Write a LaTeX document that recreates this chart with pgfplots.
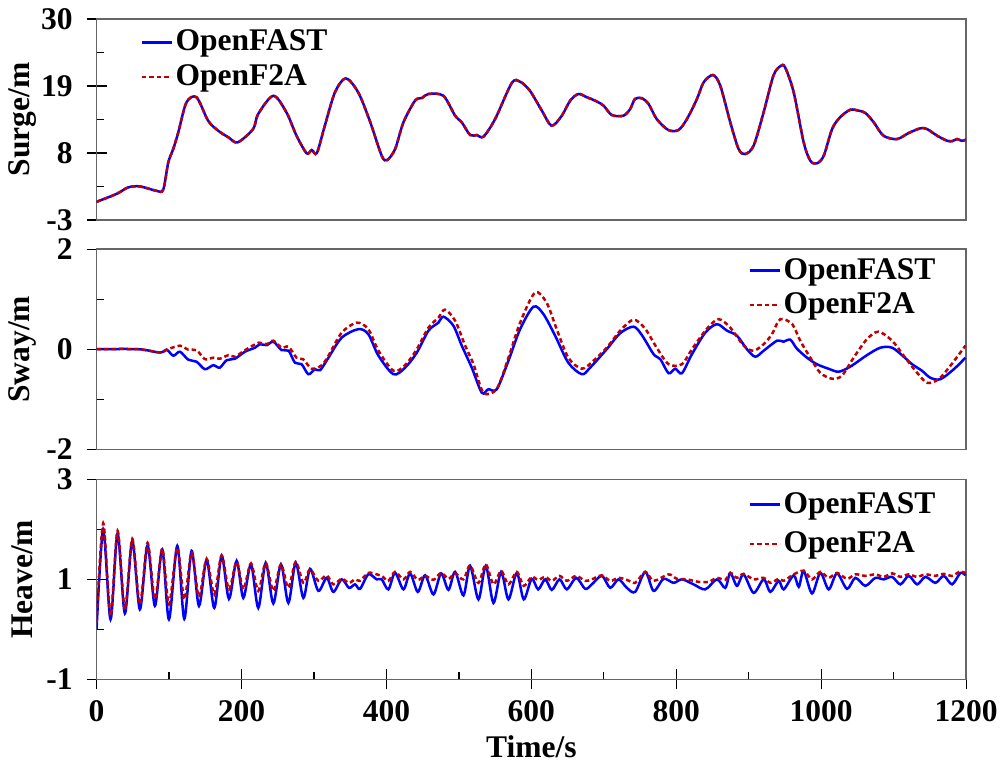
\documentclass[border=0pt]{standalone}
\usepackage{fontspec}
\setmainfont{Liberation Serif}
\usepackage{pgfplots}
\usepackage{pgfplotstable}
\pgfplotsset{compat=1.18}
\usetikzlibrary{calc}

\definecolor{ofblue}{RGB}{0,0,255}
\definecolor{ofred}{RGB}{192,0,0}

\pgfplotstableread{
t v
0 0.0
27.6 1.3
43.7 2.37
59.8 2.53
82.9 1.8
92 2.0
99 6.47
105.8 8.66
112.8 11.4
124 16.3
138 17.15
154 13.3
168 11.66
182 10.58
194.7 9.76
216 11.94
223 14.4
244 17.4
262 14.68
276 10.84
290 7.95
297 8.5
304 8.0
315 12.49
329 17.97
344 20.26
361 17.97
377 13.3
393.5 7.56
401 6.85
412 8.66
423.5 13.04
439.5 16.6
449 17.03
458 17.69
478.6 17.4
494.8 14.13
504 13.04
515.5 10.96
524.7 10.96
534 10.7
550 13.58
573 19.5
584.5 19.7
598 18.23
614.5 14.95
628 12.49
642 14.13
653.6 16.6
665 17.69
676.6 17.15
688 16.6
699.7 15.77
711 14.24
727 14.13
736.4 15.23
743 16.87
752.5 17.0
761.8 16.05
773 13.58
789 11.78
803 11.78
814.7 13.58
828.5 16.87
837.7 19.6
850.6 20.8
860.7 19.05
874.5 13.04
886 8.66
895 7.84
906.7 9.2
920.5 14.68
934 20.69
943.5 22.24
950 22.1
962 17.97
975.8 9.76
985 6.74
994 6.31
1003.5 7.56
1015 11.94
1026 13.86
1040 15.1
1051.7 14.95
1061 14.57
1072.5 13.04
1086 10.84
1104.6 10.3
1120.7 11.29
1136.8 12.06
1146 11.94
1160 10.84
1173.7 10.02
1181 9.96
1187.5 10.3
1194 10.0
1200 10.2
}\surge

\pgfplotstableread{
t v
0 0
57.5 0
87.5 -0.067
96.7 -0.01
106 -0.13
115 -0.05
126.6 -0.21
138 -0.25
149.6 -0.4
161 -0.32
170 -0.37
179.5 -0.22
191 -0.19
204.8 -0.05
218.6 0.03
225.5 0.1
234.7 0.08
244 0.15
255.5 -0.02
265 -0.03
273.8 -0.27
283 -0.3
292.3 -0.5
301.5 -0.4
308.5 -0.42
320 -0.17
338.3 0.23
361.3 0.4
375 0.3
389 -0.13
409.7 -0.5
425.7 -0.37
441.9 -0.07
458 0.37
471.7 0.53
478.7 0.65
492.4 0.47
504 0.07
517.8 -0.37
531.6 -0.87
540.7 -0.8
552.3 -0.8
568.4 -0.23
584.5 0.4
603 0.85
616.7 0.7
632.8 0.27
651 -0.27
669.7 -0.5
681 -0.37
704 0
722.6 0.32
741 0.45
752.6 0.28
768.7 -0.1
778 -0.2
789.4 -0.48
798.6 -0.39
807.8 -0.48
821.6 -0.1
840 0.33
856 0.5
870 0.37
883.7 0.27
897.5 0
909 -0.15
920.6 -0.03
939 0.17
948 0.15
957.3 0.19
966.5 0.01
980.4 -0.17
994 -0.3
1010 -0.39
1024 -0.45
1040 -0.35
1063 -0.12
1081.6 0.03
1097.8 0.03
1113.8 -0.15
1125.3 -0.3
1139 -0.43
1150.5 -0.57
1164.4 -0.6
1183 -0.4
1199 -0.17
}\swayA

\pgfplotstableread{
t v
0 0
57.5 0
87.5 -0.067
96.7 -0.01
115 0.07
126.6 -0.01
138 -0.02
149.6 -0.2
161 -0.17
170 -0.19
182 -0.12
191 -0.15
204.8 -0.02
223.8 0.13
234.7 0.1
244 0.17
255.5 0.03
265 0.05
276 -0.17
285 -0.2
297 -0.39
310.8 -0.32
320 -0.13
338.3 0.33
359 0.53
375 0.4
389 -0.03
409.7 -0.43
425.7 -0.32
441.9 0
458 0.43
471.7 0.63
480.8 0.79
494.8 0.57
508.7 0.07
520.2 -0.3
533.9 -0.87
552.3 -0.79
568.4 -0.17
584.5 0.53
605 1.13
621 0.93
635 0.4
651 -0.17
669.7 -0.39
685.7 -0.23
704 0.03
722.6 0.37
741 0.59
757 0.41
773 0.03
789.4 -0.3
807.8 -0.3
821.6 0
842.3 0.41
858.4 0.6
874.5 0.43
893 0.07
906.6 -0.03
920.6 0.1
932 0.3
943.5 0.6
960 0.5
971 0.17
985 -0.17
998.6 -0.47
1014.8 -0.59
1028.5 -0.53
1044.7 -0.17
1063 0.2
1079 0.35
1097.8 0.17
1113.8 -0.13
1130 -0.43
1146 -0.67
1162 -0.6
1178.3 -0.33
1199 0.07
}\swayB

\pgfplotstableread{
t v
0 0.0
9.2 2.0
19.3 0.2
29.0 1.92
39.1 0.32
49.3 1.77
59.8 0.4
70.4 1.68
80.5 0.47
90.7 1.6
99.9 0.2
111.4 1.67
121.1 0.21
131.2 1.57
141.3 0.47
151.9 1.39
162.5 0.43
172.6 1.47
182.7 0.61
193.3 1.37
202.5 0.63
213.1 1.3
223.2 0.43
233.4 1.33
243.9 0.52
254.5 1.3
264.7 0.53
274.8 1.33
285.4 0.63
294.6 1.21
306.1 0.77
317.6 1.03
326.8 0.75
338.3 1.0
348.4 0.83
356.7 0.9
363.6 0.81
375.1 1.1
386.6 1.0
393.5 1.0
402.7 0.8
411.9 1.13
423.5 0.8
432.7 1.12
443.3 0.75
453.4 1.08
464.9 0.7
475.5 1.12
485.6 0.79
494.8 1.15
506.3 0.68
515.5 1.27
527.0 0.6
537.1 1.27
547.7 0.53
558.3 1.15
568.4 0.6
579.9 1.13
589.5 0.6
600.4 1.01
609.4 0.8
619.1 1.0
628.2 0.79
638.9 1.0
649.0 0.8
661.9 1.03
674.3 0.81
683.5 0.9
697.3 1.07
708.8 0.83
720.3 1.0
731.8 0.83
743.3 0.75
757.2 1.15
768.7 0.77
782.5 1.01
796.3 0.93
807.8 1.0
823.9 0.9
840.0 0.8
856.1 1.0
867.6 0.83
874.5 1.13
883.7 0.87
892.9 1.1
906.7 0.73
920.6 1.0
929.8 0.75
941.3 0.97
948.2 0.8
962.0 1.08
969 0.85
975.8 1.17
987.3 0.72
998.8 1.13
1010.3 0.8
1021.8 1.12
1035.6 0.81
1047.1 1.03
1060.9 0.87
1074.7 1.03
1086.3 1.0
1097.8 1.05
1109.3 0.9
1120.8 1.07
1132.3 0.9
1143.8 1.05
1157.6 0.93
1169.1 1.07
1180.6 0.9
1192.1 1.13
1199.0 1.08
}\heaveA

\pgfplotstableread{
t v
0 0.13
9.2 2.12
19.3 0.27
29.0 1.97
39.1 0.4
49.3 1.81
59.8 0.5
70.4 1.73
80.5 0.6
90.7 1.61
99.9 0.5
111.4 1.63
121.1 0.6
131.2 1.53
141.3 0.65
151.9 1.41
162.5 0.7
172.6 1.48
182.7 0.8
193.3 1.35
202.5 0.8
213.1 1.32
223.2 0.77
233.4 1.33
243.9 0.77
254.5 1.3
264.7 0.83
274.8 1.35
285.4 0.93
294.6 1.2
306.1 0.97
317.6 1.08
326.8 0.9
338.3 1.01
348.4 0.93
356.7 1.0
363.6 0.97
375.1 1.13
386.6 1.1
393.5 1.07
402.7 0.97
411.9 1.15
423.5 1.0
432.7 1.15
443.3 0.99
453.4 1.07
464.9 0.99
475.5 1.13
485.6 1.01
494.8 1.12
506.3 1.0
515.5 1.28
527.0 0.93
537.1 1.3
547.7 0.9
558.3 1.17
568.4 0.9
579.9 1.15
589.5 0.87
600.4 1.05
609.4 0.99
619.1 1.05
628.2 0.97
638.9 1.07
649.0 0.97
661.9 1.07
674.3 0.97
683.5 1.0
697.3 1.08
708.8 0.97
720.3 1.03
731.8 0.99
743.3 0.93
757.2 1.15
768.7 0.97
789.4 1.1
800.9 1.01
814.7 1.0
830.8 0.95
844.6 0.95
856.1 1.03
867.6 0.99
874.5 1.13
883.7 1.03
892.9 1.11
906.7 1.0
920.6 1.03
929.8 0.93
941.3 1.01
948.2 0.97
962.0 1.1
975.8 1.17
987.3 1.0
998.8 1.15
1010.3 1.03
1021.8 1.13
1035.6 1.01
1047.1 1.1
1060.9 1.07
1074.7 1.1
1086.3 1.05
1097.8 1.12
1109.3 1.05
1120.8 1.1
1132.3 1.05
1143.8 1.1
1157.6 1.07
1169.1 1.11
1180.6 1.07
1192.1 1.16
1199.0 1.12
}\heaveB

\newcommand{\chartfont}{\bfseries\fontsize{12.6}{14.5}\selectfont}

\pgfplotsset{
  panel/.style={
    scale only axis,
    width=347.6pt,
    xmin=0, xmax=1200,
    axis line style={black!60, line width=0.6pt},
    tick style={black, line width=0.5pt},
    ytick pos=left,
    xtick pos=bottom,
    tick align=center,
    major tick length=8pt,
    extra y tick style={tick align=inside, major tick length=2.8pt},
    extra y tick labels={},
    extra x tick style={tick align=inside, major tick length=2.8pt},
    extra x tick labels={},
    tick label style={font=\chartfont},
    yticklabel style={xshift=-2pt},
    every axis y label/.style={at={(axis description cs:0,0.5)}, xshift=-29.7pt,
      rotate=90, anchor=center, font=\chartfont},
    legend style={draw=none, fill=none, font=\chartfont,
      inner sep=0pt, row sep=2pt,
      nodes={inner sep=1pt}},
    legend cell align=left,
    legend image code/.code={\draw[#1] (0pt,0pt) -- (12pt,0pt);},
  },
  fast/.style={ofblue, line width=1pt, smooth},
  f2a/.style={ofred, line width=1pt, dash pattern=on 1.8pt off 1.2pt, smooth},
}

\begin{document}
\begin{tikzpicture}
\begin{axis}[panel, name=a1, anchor=north west, at={(0,0)},
    height=80.4pt, ymin=-3, ymax=30,
    ytick={-3,8,19,30}, yticklabels={-3,8,19,30},
    extra y ticks={2.5,13.5,24.5},
    xtick=\empty,
    ylabel={Surge/m},
    legend style={at={(axis description cs:0.05,0.96)}, anchor=north west}]
\addplot[fast] table[x=t, y=v] {\surge};
\addplot[f2a] table[x=t, y=v] {\surge};
\legend{OpenFAST, OpenF2A}
\end{axis}

\begin{axis}[panel, name=a2, anchor=north west, at={($(a1.south west)+(0,-11.6pt)$)},
    height=80pt, ymin=-2, ymax=2,
    ytick={-2,0,2}, yticklabels={-2,0,2},
    extra y ticks={-1,1},
    xtick=\empty,
    ylabel={Sway/m},
    legend style={at={(axis description cs:0.968,0.97)}, anchor=north east}]
\addplot[fast] table[x=t, y=v] {\swayA};
\addplot[f2a] table[x=t, y=v] {\swayB};
\legend{OpenFAST, OpenF2A}
\end{axis}

\begin{axis}[panel, name=a3, anchor=north west, at={($(a2.south west)+(0,-12pt)$)},
    height=80pt, ymin=-1, ymax=3,
    ytick={-1,1,3}, yticklabels={-1,1,3},
    extra y ticks={0,2},
    xtick={0,200,...,1200}, xticklabels={0,200,400,600,800,1000,1200},
    extra x ticks={100,300,500,700,900,1100},
    xticklabel style={yshift=-1pt},
    ylabel={Heave/m},
    xlabel={Time/s},
    xlabel style={at={(axis description cs:0.5,0)}, yshift=-27pt, anchor=center, font=\chartfont},
    legend style={at={(axis description cs:0.968,0.95)}, anchor=north east, row sep=4pt}]
\addplot[fast] table[x=t, y=v] {\heaveA};
\addplot[f2a] table[x=t, y=v] {\heaveB};
\legend{OpenFAST, OpenF2A}
\end{axis}
\end{tikzpicture}
\end{document}
